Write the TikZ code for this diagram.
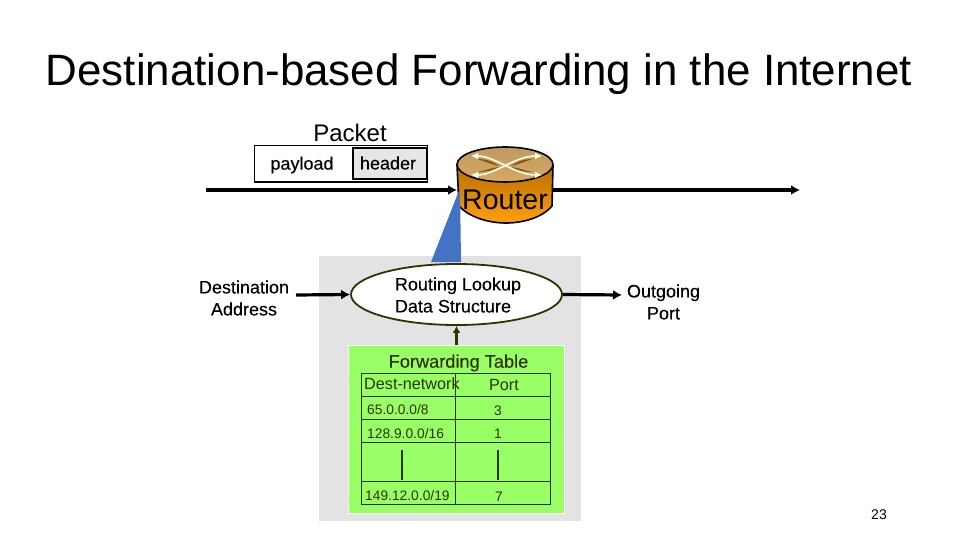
\documentclass[tikz,border=0pt]{standalone}
\usepackage{fontspec}
\setmainfont{Liberation Sans}
\usetikzlibrary{arrows.meta,shapes.geometric}
\definecolor{olivedark}{HTML}{2F3300}
\definecolor{tablegreen}{HTML}{99FF66}
\definecolor{panelgray}{HTML}{E3E3E3}
\definecolor{headgray}{HTML}{E6E6E6}
\definecolor{bluewedge}{HTML}{4472C4}
\definecolor{bodytop}{HTML}{B86E00}
\definecolor{bodybot}{HTML}{FF9F0F}
\definecolor{tantop}{HTML}{BE9A62}
\definecolor{tanbot}{HTML}{D8A860}
\definecolor{darktan}{HTML}{8A5A14}
\definecolor{crosswhite}{HTML}{FFFFF0}
\tikzset{
  txt/.style={inner sep=0pt,align=center,text=black,font=\fontsize{18}{22}\selectfont\addfontfeature{FakeBold=0.2}},
  celltext/.style={inner sep=0pt,text=olivedark,font=\fontsize{13.8}{16}\selectfont},
  headtext/.style={inner sep=0pt,text=olivedark,font=\fontsize{16.2}{18}\selectfont},
  grid/.style={draw=olivedark,line width=1pt},
  flow/.style={line width=3.2pt,-{Latex[length=9pt,width=10pt]}},
  dark/.style={line width=2.4pt,draw=olivedark},
  cross/.style={crosswhite,line width=1.6pt,{Latex[length=7pt,width=7pt]}-{Latex[length=7pt,width=7pt]}}
}
\begin{document}
\begin{tikzpicture}[x=1pt,y=-1pt]
\useasboundingbox (0,0) rectangle (960,540);
\fill[white] (0,0) rectangle (960,540);
\node[inner sep=0pt,font=\fontsize{43.9}{50}\selectfont] (title) at (479,74) {Destination-based Forwarding in the Internet};
\node[inner sep=0pt,font=\fontsize{24}{28}\selectfont] (packet) at (350,133) {Packet};
% packet
\node[draw=black,line width=1pt,fill=white,minimum width=173pt,minimum height=36pt,inner sep=0pt] (pktbox) at (340.5,164) {};
\node[draw=black,line width=1.2pt,fill=headgray,minimum width=74pt,minimum height=31pt,inner sep=0pt] (header) at (390,163.5) {};
\node[txt] (headertext) at (388,163) {header};
\node[txt] (payload) at (302,165) {payload};
% panel
\fill[panelgray] (319,256) rectangle (581,521);
% router
\coordinate (rin) at (457,190);
\coordinate (rout) at (553,190);
\coordinate (start) at (206,190);
\coordinate (end) at (800,190);
\draw[flow] (start) -- (rin);
\draw[flow] (rout) -- (end);
\shade[top color=bodytop,bottom color=bodybot,draw=black,line width=1.6pt]
  (457,165) -- (459,206) .. controls (470,218) and (490,223) .. (506,223) .. controls (522,223) and (542,218) .. (552,206) -- (553,165) -- cycle;
\shade[top color=tantop,bottom color=tanbot,draw=black,line width=1.6pt] (505,164.5) ellipse[x radius=48,y radius=17.5];
\fill[darktan] (477,159) .. controls (488,159) and (494,162) .. (499,166) .. controls (490,164) and (484,161) .. cycle;
\fill[darktan] (477,172) .. controls (488,172) and (494,170) .. (499,167) .. controls (490,168) and (484,171) .. cycle;
\fill[darktan] (533,159) .. controls (522,159) and (516,162) .. (511,166) .. controls (520,164) and (526,161) .. cycle;
\fill[darktan] (533,172) .. controls (522,172) and (516,170) .. (511,167) .. controls (520,168) and (526,171) .. cycle;
\draw[cross] (471,175) .. controls (495,175) and (515,156) .. (542,156);
\draw[cross] (542,175) .. controls (515,175) and (495,156) .. (471,156);
% wedge
\fill[bluewedge] (460,188) -- (431,262) -- (461,262) -- cycle;
\node[inner sep=0pt,font=\fontsize{28.5}{32}\selectfont] (router) at (505,200) {Router};
% ellipse
\node[ellipse,draw=olivedark,line width=1.8pt,fill=white,minimum width=211pt,minimum height=61pt,inner sep=0pt] (lookup) at (456.5,294.5) {};
\node[txt,align=left] (lookuptext) at (458,295) {Routing Lookup\\Data Structure};
\node[txt] (dest) at (244,298) {Destination\\Address};
\node[txt] (outport) at (663.5,302) {Outgoing\\Port};
\coordinate (d0) at (296,295);
\coordinate (o1) at (622,295);
\draw[flow] (d0) -- (lookup.west);
\draw[flow] (lookup.east) -- (o1);
% table
\node[draw=white,line width=1.5pt,fill=tablegreen,minimum width=216pt,minimum height=168pt,inner sep=0pt] (green) at (456.5,429.5) {};
\draw[dark,-{Latex[length=7pt,width=8pt]}] (green.north -| lookup.south) -- (lookup.south);
\node[inner sep=0pt,text=olivedark,font=\fontsize{18.2}{20}\selectfont\addfontfeature{FakeBold=0.2}] (fwd) at (458.5,363) {Forwarding Table};
\draw[grid] (361.5,373) rectangle (550.5,504);
\foreach \yy in {396,419,442,481}{\draw[grid] (361.5,\yy) -- (550.5,\yy);}
\draw[grid] (455.5,373) -- (455.5,504);
\node[headtext,anchor=west] (c1) at (364,384) {Dest-network};
\node[headtext] (c2) at (504,385) {Port};
\node[celltext,anchor=west] (c3) at (367,410) {65.0.0.0/8};
\node[celltext] (c4) at (498,411) {3};
\node[celltext,anchor=west] (c5) at (367,434) {128.9.0.0/16};
\node[celltext] (c6) at (498,434) {1};
\node[celltext,anchor=west] (c7) at (365,496) {149.12.0.0/19};
\node[celltext] (c8) at (499,497) {7};
\draw[olivedark,line width=1.8pt] (402,450) -- (402,480);
\draw[olivedark,line width=1.8pt] (498,450) -- (498,480);
\node[inner sep=0pt,font=\fontsize{14}{16}\selectfont] (num) at (879,515) {23};
\end{tikzpicture}
\end{document}
